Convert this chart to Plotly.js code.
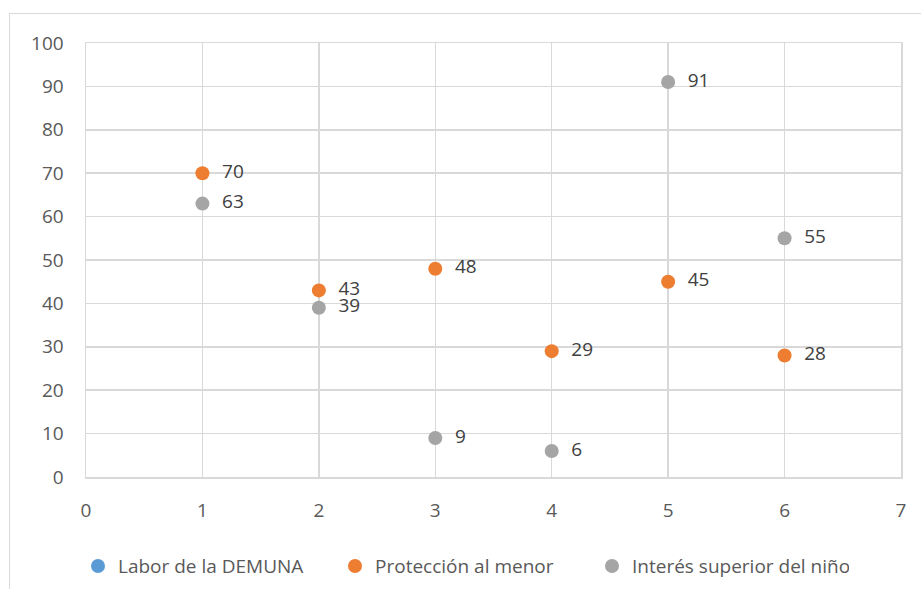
<!DOCTYPE html>
<html>
<head>
<meta charset="utf-8">
<script src="https://cdn.plot.ly/plotly-3.0.1.min.js"></script>
<style>
html,body{margin:0;padding:0;background:#fff;}
#frame{position:absolute;left:9px;top:13px;width:930px;height:600px;border:1px solid #d9d9d9;box-sizing:border-box;pointer-events:none;}
#chart{position:absolute;left:0;top:0;width:921px;height:589px;}
</style>
</head>
<body>
<div id="chart"></div>
<div id="frame"></div>
<script>
const seriesNames = ["Labor de la DEMUNA", "Protección al menor", "Interés superior del niño"];
const laborX = [];
const laborY = [];
const proteccionX = [1, 2, 3, 4, 5, 6];
const proteccionY = [70, 43, 48, 29, 45, 28];
const interesX = [1, 2, 3, 4, 5, 6];
const interesY = [63, 39, 9, 6, 91, 55];
const xTicks = [0, 1, 2, 3, 4, 5, 6, 7];
const yTicks = [0, 10, 20, 30, 40, 50, 60, 70, 80, 90, 100];

const font = "'Open Sans', sans-serif";
function mk(name, xs, ys, color) {
  return {
    type: 'scatter', mode: 'markers+text', name: name,
    x: xs.length ? xs : [null], y: ys.length ? ys : [null],
    text: ys.map(v => '\u00a0\u00a0' + v), textposition: 'middle right',
    textfont: {family: font, size: 19, color: '#404040'},
    marker: {color: color, size: 14},
    cliponaxis: false, hoverinfo: 'x+y'
  };
}
const data = [
  mk(seriesNames[0], laborX, laborY, '#5B9BD5'),
  mk(seriesNames[1], proteccionX, proteccionY, '#ED7D31'),
  mk(seriesNames[2], interesX, interesY, '#A5A5A5')
];
const layout = {
  width: 921, height: 589,
  margin: {l: 86, r: 20, t: 43, b: 112, autoexpand: false},
  paper_bgcolor: '#fff', plot_bgcolor: '#fff',
  showlegend: true,
  legend: {orientation: 'h', x: 0.0847, xref: 'container', xanchor: 'left',
           y: 0.071, yref: 'container', yanchor: 'top',
           font: {family: font, size: 19, color: '#595959'}, itemwidth: 30,
           entrywidth: 212, entrywidthmode: 'pixels', traceorder: 'normal'},
  xaxis: {range: [0, 7], tickvals: xTicks, ticktext: xTicks.map(String),
          showgrid: true, gridcolor: '#d9d9d9', gridwidth: 1.5,
          zeroline: false, showline: true, linecolor: '#d9d9d9', linewidth: 1.5, mirror: true,
          ticks: 'outside', ticklen: 16, tickcolor: 'rgba(0,0,0,0)',
          tickfont: {family: font, size: 19, color: '#595959'}, fixedrange: true},
  yaxis: {range: [0, 100], tickvals: yTicks, ticktext: yTicks.map(String),
          showgrid: true, gridcolor: '#d9d9d9', gridwidth: 1.5,
          zeroline: false, showline: true, linecolor: '#d9d9d9', linewidth: 1.5, mirror: true,
          ticks: 'outside', ticklen: 17, tickcolor: 'rgba(0,0,0,0)',
          tickfont: {family: font, size: 19, color: '#595959'}, fixedrange: true}
};
Plotly.newPlot('chart', data, layout, {displayModeBar: false, staticPlot: true});
</script>
</body>
</html>
